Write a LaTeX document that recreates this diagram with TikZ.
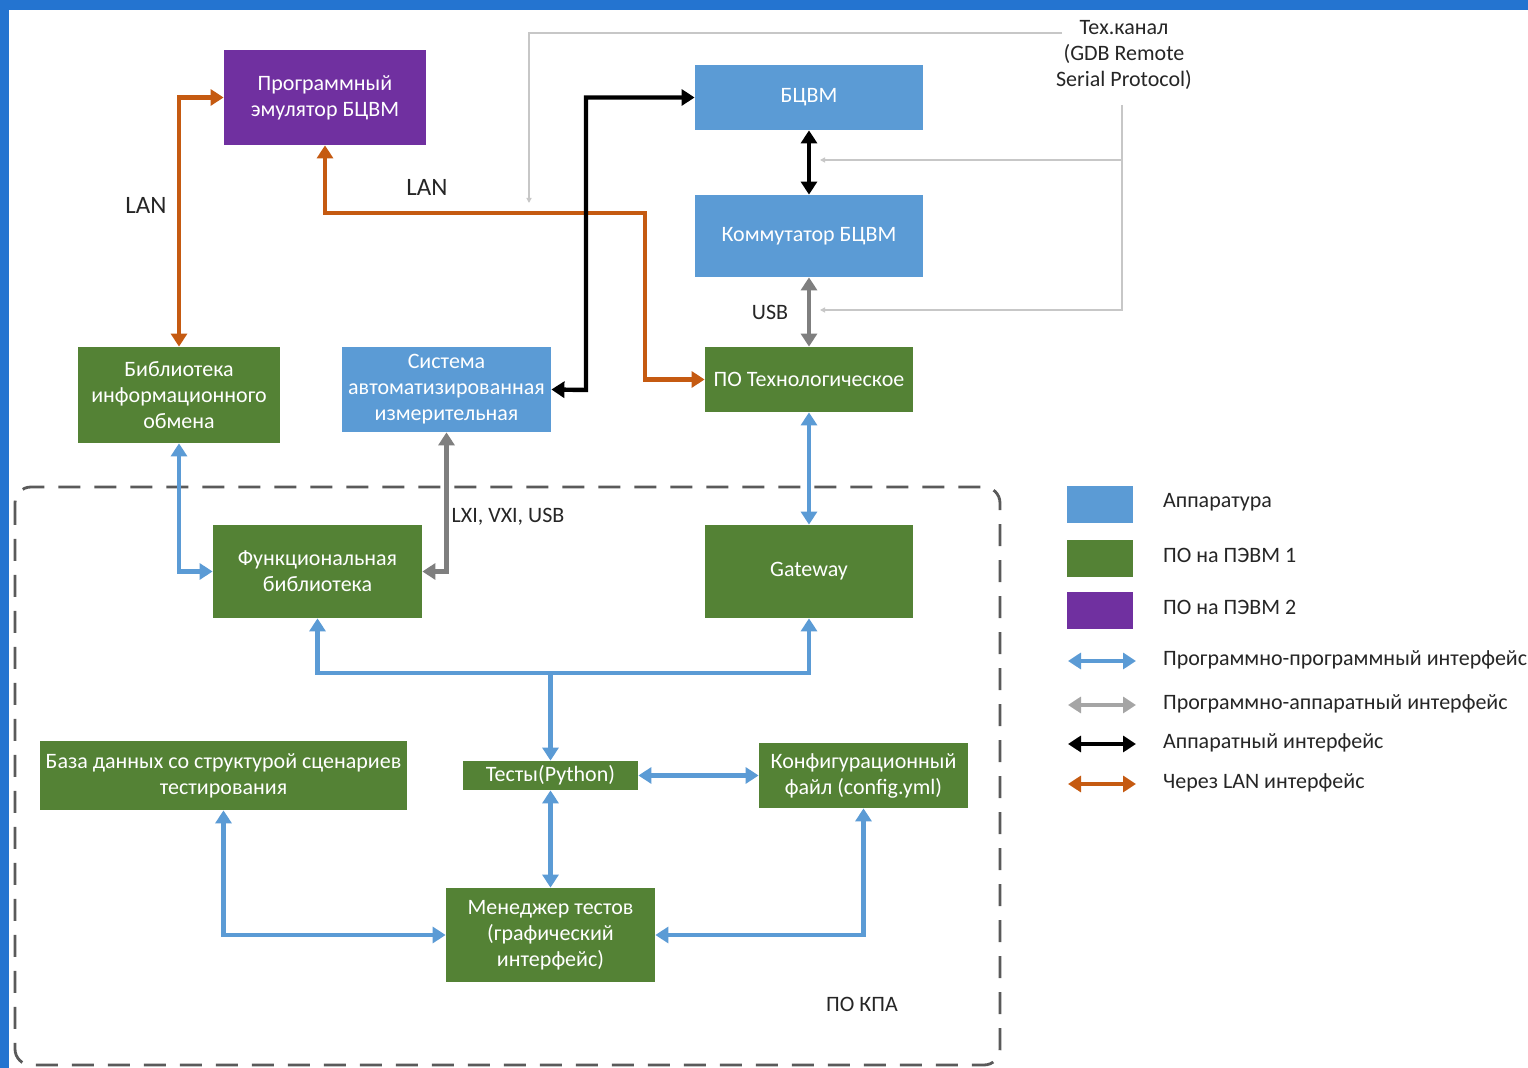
\documentclass[tikz,border=0pt]{standalone}
\usepackage{fontspec}
\setmainfont{Carlito}
\usetikzlibrary{arrows.meta,positioning}
\definecolor{frame}{RGB}{36,116,208}
\definecolor{hwbox}{RGB}{91,155,213}
\definecolor{pcone}{RGB}{84,130,53}
\definecolor{pctwo}{RGB}{112,48,160}
\definecolor{lanc}{RGB}{197,90,17}
\definecolor{hsgray}{RGB}{127,127,127}
\definecolor{hslight}{RGB}{165,165,165}
\definecolor{kpagray}{RGB}{90,90,90}

\begin{document}
\begin{tikzpicture}[x=0.5pt,y=-0.5pt,
  every node/.style={font=\fontsize{11}{13}\selectfont},
  blk/.style={text=white,align=center,inner sep=2pt},
  hw/.style={blk,fill=hwbox},
  pc1/.style={blk,fill=pcone},
  pc2/.style={blk,fill=pctwo},
  link/.style={line width=2.2pt,{Triangle[length=6.5pt,width=8pt]}-{Triangle[length=6.5pt,width=8pt]}},
  sw/.style={link,draw=hwbox},
  hs/.style={link,draw=hsgray},
  hwl/.style={link,draw=black},
  lan/.style={link,draw=lanc},
  tech/.style={draw=black!22,line width=0.6pt,-{Triangle[length=2.5pt,width=2.5pt]}},
  lbl/.style={text=black!85}]
\useasboundingbox (0,0) rectangle (1528,1068);
\fill[frame] (0,0) rectangle (1528,1068);
\fill[white] (9,10) rectangle (1528,1068);

\node[pc2,minimum width=101pt,minimum height=47.5pt] (emul) at (325,97.5) {Программный\\эмулятор БЦВМ};
\node[hw,minimum width=114pt,minimum height=32.5pt] (bcvm) at (809,97.5) {БЦВМ};
\node[hw,minimum width=114pt,minimum height=41pt] (komm) at (809,236) {Коммутатор БЦВМ};
\node[pc1,minimum width=104pt,minimum height=32.5pt] (potech) at (809,379.5) {ПО Технологическое};
\node[pc1,minimum width=101pt,minimum height=48pt] (bib) at (179,395) {Библиотека\\информационного\\обмена};
\node[hw,minimum width=104.5pt,minimum height=42.5pt,inner sep=1pt] (sys) at (446.5,389.5) {Система\\автоматизированная\\измерительная};
\node[pc1,minimum width=104.5pt,minimum height=46.5pt] (func) at (317.5,571.5) {Функциональная\\библиотека};
\node[pc1,minimum width=104pt,minimum height=46.5pt] (gw) at (809,571.5) {Gateway};
\node[pc1,minimum width=183.5pt,minimum height=34.5pt] (db) at (223.5,775.5) {База данных со структурой сценариев\\тестирования};
\node[pc1,minimum width=87.5pt,minimum height=14.5pt,inner sep=0.5pt] (tests) at (550.5,775.5) {Тесты(Python)};
\node[pc1,minimum width=104.5pt,minimum height=32.5pt] (conf) at (863.5,775.5) {Конфигурационный\\файл (config.yml)};
\node[pc1,minimum width=104.5pt,minimum height=47pt] (mgr) at (550.5,935) {Менеджер тестов\\(графический\\интерфейс)};

\draw[kpagray,line width=1.4pt,dash pattern=on 11pt off 7pt,rounded corners=8pt] (15,487) rectangle (1000,1065);
\node[lbl] (kpa) at (862,1004) {ПО КПА};

\coordinate (o1) at (645,213);
\coordinate (b1) at (586,390);
\coordinate (jn) at (550.5,673);
\draw[lan] (bib.north) |- (emul.west);
\draw[lan] (emul.south) |- (o1) |- (potech.west);
\draw[hwl] (bcvm.west) -| (b1) -- (sys.east);
\draw[hwl] (bcvm.south) -- (komm.north);
\draw[hs] (komm.south) -- (potech.north) node[midway,left=6pt,lbl] {USB};
\draw[sw] (potech.south) -- (gw.north);
\draw[sw] (bib.south) |- (func.west);
\draw[hs] (sys.south) |- (func.east);
\node[lbl] (lxi) at (508,517) {LXI, VXI, USB};
\draw[sw] (func.south) |- (jn) -| (gw.south);
\draw[sw,{Triangle[length=6.5pt,width=8pt]}-] (tests.north) -- (jn);
\draw[sw] (tests.east) -- (conf.west);
\draw[sw] (tests.south) -- (mgr.north);
\draw[sw] (db.south) |- (mgr.west);
\draw[sw] (conf.south) |- (mgr.east);
\node[lbl,font=\fontsize{12.5}{15}\selectfont] (lan1) at (146,205) {LAN};
\node[lbl,font=\fontsize{12.5}{15}\selectfont] (lan2) at (427,187) {LAN};

\node[lbl,align=center] (techc) at (1124,55) {Тех.канал\\(GDB Remote\\Serial Protocol)};
\coordinate (t1) at (1062,33);
\coordinate (t2) at (529,203);
\coordinate (t3) at (1122,105);
\coordinate (t4) at (820,310);
\coordinate (t5) at (820,160);
\draw[tech] (t1) -| (t2);
\draw[tech] (t3) |- (t4);
\draw[tech] (t3 |- t5) -- (t5);

\node[fill=hwbox,minimum width=33pt,minimum height=18.5pt] (lgA) at (1100,505) {};
\node[fill=pcone,minimum width=33pt,minimum height=18.5pt] (lgB) at (1100,558.5) {};
\node[fill=pctwo,minimum width=33pt,minimum height=18.5pt] (lgC) at (1100,610.5) {};
\node[lbl,anchor=west] (tA) at (1156,502) {Аппаратура};
\node[lbl,anchor=west] (tB) at (1156,555) {ПО на ПЭВМ 1};
\node[lbl,anchor=west] (tC) at (1156,607) {ПО на ПЭВМ 2};
\coordinate (a1) at (1068,661); \coordinate (a2) at (1136,661);
\coordinate (b1l) at (1068,705); \coordinate (b2l) at (1136,705);
\coordinate (c1) at (1068,744); \coordinate (c2) at (1136,744);
\coordinate (d1) at (1068,784); \coordinate (d2) at (1136,784);
\draw[sw] (a1) -- (a2);
\draw[link,draw=hslight] (b1l) -- (b2l);
\draw[hwl] (c1) -- (c2);
\draw[lan] (d1) -- (d2);
\node[lbl,anchor=west] (tD) at (1156,660) {Программно-программный интерфейс};
\node[lbl,anchor=west] (tE) at (1156,704) {Программно-аппаратный интерфейс};
\node[lbl,anchor=west] (tF) at (1156,743) {Аппаратный интерфейс};
\node[lbl,anchor=west] (tG) at (1156,783) {Через LAN интерфейс};
\end{tikzpicture}
\end{document}
